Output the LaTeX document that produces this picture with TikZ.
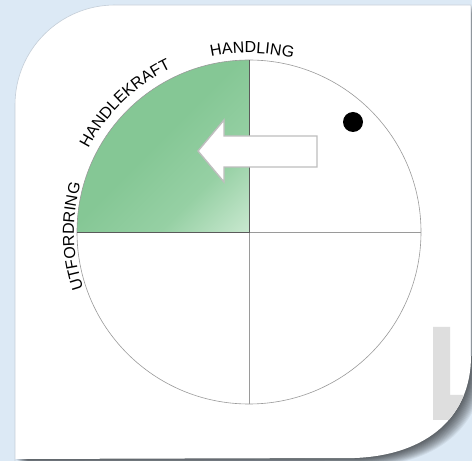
\documentclass[tikz,border=0pt]{standalone}
\usepackage{fontspec}
\setmainfont{Liberation Sans}
\usetikzlibrary{decorations.text,shadings}
\definecolor{bgblue}{HTML}{DCE9F5}
\definecolor{cardedge}{HTML}{C4CED8}
\definecolor{gdark}{HTML}{85C795}
\definecolor{gmid}{HTML}{96D0A4}
\definecolor{glight}{HTML}{CDEAD3}
\definecolor{circgray}{HTML}{9A9A9A}
\definecolor{axisdark}{HTML}{5A5A5A}
\definecolor{arrowgray}{HTML}{BEBEBE}
\definecolor{lgray}{HTML}{DEDEDE}
\pgfdeclareverticalshading{quadgreen}{100bp}{color(0bp)=(glight); color(13bp)=(glight); color(33bp)=(gmid); color(52bp)=(gdark); color(100bp)=(gdark)}
\newcommand\cardshape{(15,-5) -- (15,356) arc[start angle=180,end angle=90,radius=100] -- (471,456) -- (471,105) .. controls (471,45) and (428,6) .. (355,3) -- (15,2) -- cycle}
\tikzset{
  circline/.style={draw=circgray, line width=0.6pt},
  quadline/.style={draw=axisdark, line width=0.7pt},
  arcword/.style={decorate, decoration={text along path, text align=center, text={|\fontsize{16}{19}\selectfont|#1}}},
  arrowshape/.style={draw=arrowgray, line width=1.4pt, fill=white, line join=miter},
}
\begin{document}
\begin{tikzpicture}[x=1pt,y=1pt]
\useasboundingbox (0,0) rectangle (472,461);
\fill[bgblue] (0,0) rectangle (472,461);
% shadow of the lifted corner
\foreach \k in {1,...,14}{
  \fill[black, opacity=0.055, shift={(\k*0.9,-\k*0.6)}] \cardshape;
}
% card
\fill[white] \cardshape;
\draw[cardedge, line width=0.6pt] (15,-5) -- (15,356) arc[start angle=180,end angle=90,radius=100] -- (471,456) -- (471,105);
% grey L on the card
\begin{scope}
  \clip \cardshape;
  \fill[lgray] (433,134) -- (450,134) -- (450,66) -- (480,66) -- (480,41) -- (433,41) -- cycle;
\end{scope}
% green quadrant
\shade[shading=quadgreen, shading angle=45] (249,229) -- (77,229) arc[start angle=180,end angle=90,radius=172] -- cycle;
% circle and axes
\draw[circline] (249,229) circle[radius=172];
\draw[circline] (77,229) -- (421,229);
\draw[circline] (249,57) -- (249,401);
\draw[quadline] (77,229) -- (249,229) -- (249,401);
% arrow
\draw[arrowshape] (198,310) -- (224,341) -- (224,325) -- (317,325) -- (317,294) -- (224,294) -- (224,279) -- cycle;
% dot
\fill[black] (353,339) circle[radius=10];
% labels along the circle
\path[arcword=HANDLING] ([shift={(249,229)}]106:179) arc[start angle=106,end angle=72,radius=179];
\path[arcword=HANDLEKRAFT] ([shift={(249,229)}]158:181) arc[start angle=158,end angle=110,radius=181];
\path[arcword=UTFORDRING] ([shift={(249,229)}]203:175) arc[start angle=203,end angle=160,radius=175];
\end{tikzpicture}
\end{document}
